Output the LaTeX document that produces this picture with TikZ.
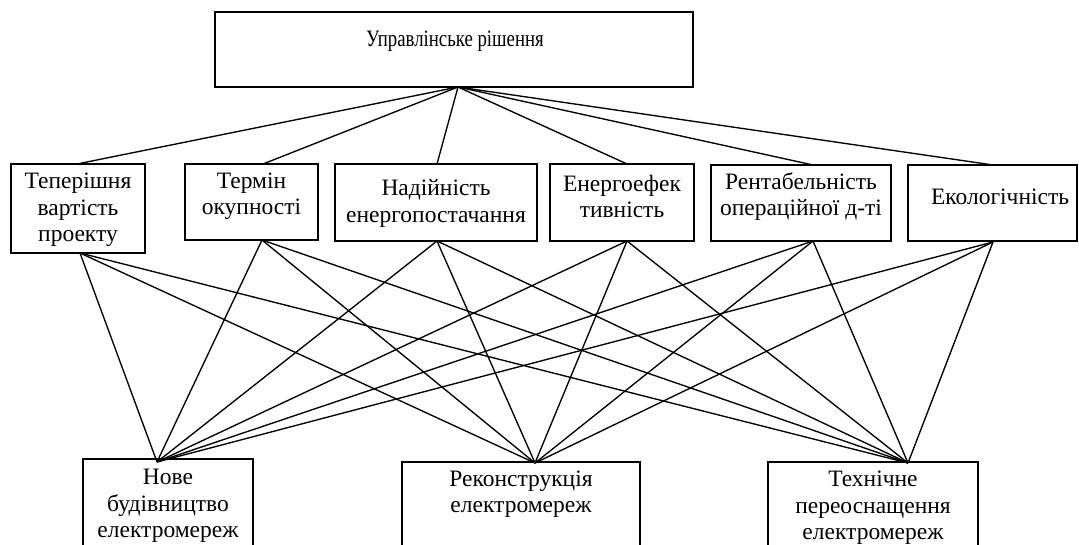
\documentclass[tikz,border=0pt]{standalone}
\usepackage{fontspec}
\setmainfont{Liberation Serif}
\newfontfamily\condfont[FakeStretch=0.80]{Liberation Serif}
\begin{document}
\begin{tikzpicture}[x=1pt,y=-1pt,
  box/.style={draw, line width=1.7pt, inner sep=0pt},
  lbl/.style={align=center, font=\fontsize{23.5}{26.5}\selectfont, inner sep=0pt},
  toplbl/.style={align=center, font=\condfont\fontsize{23.5}{26}\selectfont, inner sep=0pt},
  link/.style={line width=1.35pt}]
\useasboundingbox (0,0) rectangle (1079,545);
\clip (0,0) rectangle (1079,545);
% boxes
\node[box, minimum width=478pt, minimum height=75pt] (top) at (454,49.5) {};
\node[box, minimum width=134pt, minimum height=89pt] (c1) at (78,208.5) {};
\node[box, minimum width=133pt, minimum height=76pt] (c2) at (251.5,202) {};
\node[box, minimum width=202pt, minimum height=77pt] (c3) at (436,202.5) {};
\node[box, minimum width=144pt, minimum height=77pt] (c4) at (622,202.5) {};
\node[box, minimum width=180pt, minimum height=76pt] (c5) at (801,203) {};
\node[box, minimum width=169pt, minimum height=76pt] (c6) at (992.5,203) {};
\node[box, minimum width=170pt, minimum height=111pt] (A) at (168,514.5) {};
\node[box, minimum width=238pt, minimum height=108pt] (B) at (521,516) {};
\node[box, minimum width=210pt, minimum height=108pt] (C) at (873,516) {};
% labels
\node[toplbl] (ltop) at (455,41) {Управлінське рішення};
\node[lbl] (l1) at (78,210) {Теперішня\\вартість\\проекту};
\node[lbl] (l2) at (251.5,196.5) {Термін\\окупності};
\node[lbl] (l3) at (436,203.5) {Надійність\\енергопостачання};
\node[lbl] (l4) at (622,196.5) {Енергоефек\\тивність};
\node[lbl] (l5) at (801,196.5) {Рентабельність\\операційної д-ті};
\node[lbl] (l6) at (1000,197) {Екологічність};
\node[lbl] (lA) at (168,506) {Нове\\будівництво\\електромереж};
\node[lbl] (lB) at (521,494) {Реконструкція\\електромереж};
\node[lbl] (lC) at (873,508) {Технічне\\переоснащення\\електромереж};
% connection points
\coordinate (apex) at (458,87);
\coordinate (ct1) at (77,164);
\coordinate (ct2) at (263,164);
\coordinate (ct3) at (437,164);
\coordinate (ct4) at (627,164);
\coordinate (ct5) at (813,165);
\coordinate (ct6) at (993,165);
\coordinate (cb1) at (80,253);
\coordinate (cb2) at (262,240);
\coordinate (cb3) at (437,241);
\coordinate (cb4) at (627,241);
\coordinate (cb5) at (813,241);
\coordinate (cb6) at (993,242);
\coordinate (aA) at (157,462);
\coordinate (aB) at (535,463);
\coordinate (aC) at (908,463);
% connectors
\foreach \i in {1,...,6} {
  \draw[link] (apex) -- (ct\i);
  \foreach \j in {A,B,C} \draw[link] (cb\i) -- (a\j);
}
\end{tikzpicture}
\end{document}
